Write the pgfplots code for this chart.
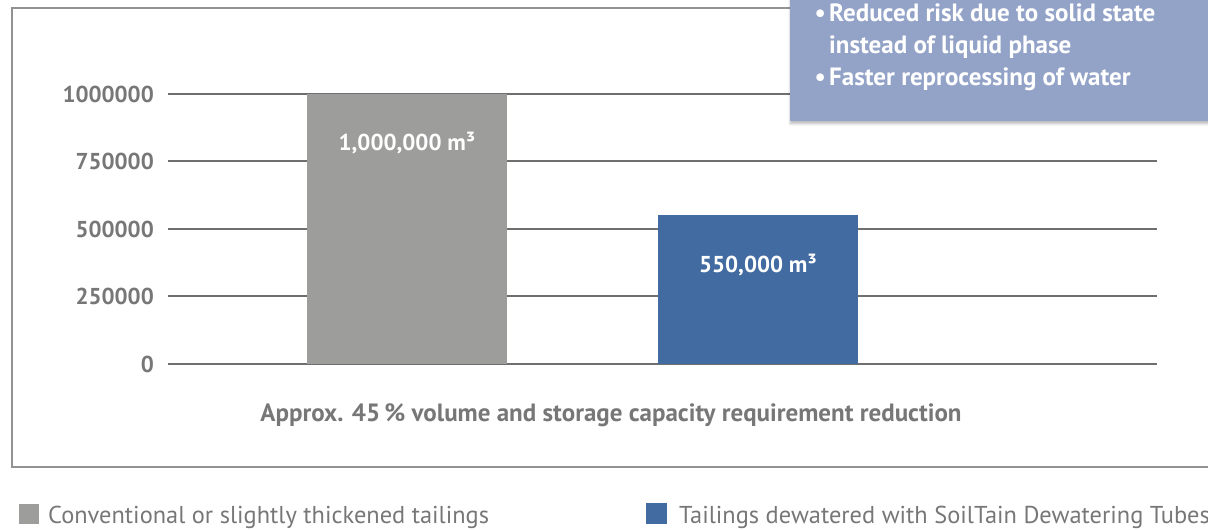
\documentclass[border=0pt]{standalone}
\usepackage{fontspec}
\setmainfont{PT Sans}
\usepackage{pgfplots}
\pgfplotsset{compat=1.18}
\usetikzlibrary{shadows.blur}
\definecolor{bargray}{HTML}{9D9D9C}
\definecolor{barblue}{HTML}{426BA1}
\definecolor{boxblue}{HTML}{93A3C8}
\definecolor{txtgray}{HTML}{777777}
\definecolor{gridgray}{HTML}{6F6F6F}
\begin{document}
\begin{tikzpicture}[x=1bp,y=1bp]
\path[use as bounding box, clip] (0,0) rectangle (1208,530);
\draw[txtgray!80, line width=1.5bp] (12,63) rectangle (1230,522);
\begin{axis}[at={(168bp,166bp)}, anchor=south west, scale only axis,
  width=989bp, height=270bp, xmin=168, xmax=1157, ymin=0, ymax=1000000,
  axis line style={draw=none}, major tick length=0pt, tick style={draw=none},
  scaled y ticks=false,
  xtick=\empty, ytick={0,250000,500000,750000,1000000},
  yticklabels={0,250000,500000,750000,1000000},
  ymajorgrids, grid style={gridgray, line width=2bp},
  yticklabel style={anchor=east, inner sep=0pt, xshift=-14bp, text=txtgray,
    font=\fontsize{23bp}{26bp}\selectfont\bfseries},
  clip=false]
\addplot[ybar, bar shift=0pt, bar width=200bp, fill=bargray, draw=none] coordinates {(407,1000000)};
\addplot[ybar, bar shift=0pt, bar width=200bp, fill=barblue, draw=none] coordinates {(758,550000)};
\node[text=white, font=\fontsize{23bp}{26bp}\selectfont\bfseries] at (axis cs:407,818500) {1,000,000 m³};
\node[text=white, font=\fontsize{23bp}{26bp}\selectfont\bfseries] at (axis cs:758,366700) {550,000 m³};
\end{axis}
\node[anchor=base, inner sep=0pt, text=txtgray, font=\fontsize{25bp}{27bp}\selectfont\bfseries] at (611,108) {Approx. 45\,\% volume and storage capacity requirement reduction};
\path[fill=boxblue, blur shadow={shadow xshift=0bp, shadow yshift=-3bp, shadow blur steps=6, shadow opacity=25}] (790,409) rectangle (1240,545);
\begin{scope}[every node/.style={inner sep=0pt, text=white, font=\fontsize{25bp}{27bp}\selectfont\bfseries}]
\node[anchor=base east] at (826,508) {•};
\node[anchor=base west] at (829,508) {Reduced risk due to solid state};
\node[anchor=base west] at (829,476) {instead of liquid phase};
\node[anchor=base east] at (826,444) {•};
\node[anchor=base west] at (829,444) {Faster reprocessing of water};
\end{scope}
\fill[bargray] (19,6) rectangle (39,26);
\fill[barblue] (646,6) rectangle (667,27);
\begin{scope}[every node/.style={inner sep=0pt, text=txtgray, font=\fontsize{24.4bp}{26bp}\selectfont}]
\node[anchor=base west] at (48,6) {Conventional or slightly thickened tailings};
\node[anchor=base west] at (679,6) {Tailings dewatered with SoilTain Dewatering Tubes};
\end{scope}
\end{tikzpicture}
\end{document}
